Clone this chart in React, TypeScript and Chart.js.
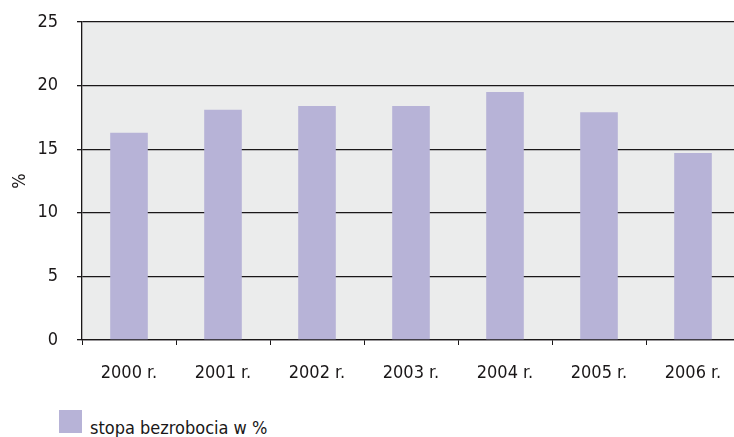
import React, { useEffect, useRef } from "react";
import { Chart, registerables } from "chart.js";

Chart.register(...registerables);

const categories = ["2000 r.", "2001 r.", "2002 r.", "2003 r.", "2004 r.", "2005 r.", "2006 r."];
const unemploymentRate = [16.3, 18.1, 18.4, 18.4, 19.5, 17.9, 14.7];
const seriesLabel = "stopa bezrobocia w %";
const yAxisTitle = "%";

const BAR_COLOR = "#b7b3d7";
const PLOT_BG = "#ebecec";
const LINE_COLOR = "#1a1718";
const FONT = "'DejaVu Sans Condensed', 'Liberation Sans Narrow', sans-serif";
const FONT_SIZE = 18;

const plotBackground = {
  id: "plotBackground",
  beforeDraw(chart: any) {
    const { ctx, chartArea } = chart;
    if (!chartArea) return;
    ctx.save();
    ctx.fillStyle = PLOT_BG;
    ctx.fillRect(chartArea.left, chartArea.top, chartArea.right - chartArea.left, chartArea.bottom - chartArea.top);
    ctx.restore();
  },
};

export default function App() {
  const canvasRef = useRef<HTMLCanvasElement | null>(null);

  useEffect(() => {
    if (!canvasRef.current) return;
    const chart = new Chart(canvasRef.current, {
      type: "bar",
      data: {
        labels: categories,
        datasets: [
          {
            label: seriesLabel,
            data: unemploymentRate,
            backgroundColor: BAR_COLOR,
            borderWidth: 0,
            barPercentage: 0.4,
            categoryPercentage: 1,
          },
        ],
      },
      options: {
        animation: false,
        responsive: false,
        maintainAspectRatio: false,
        layout: { padding: { top: 22, right: 2, left: 0, bottom: 0 } },
        plugins: {
          legend: { display: false },
          tooltip: { enabled: false },
        },
        scales: {
          x: {
            grid: {
              display: true,
              drawOnChartArea: false,
              drawTicks: true,
              tickLength: 5,
              color: LINE_COLOR,
              offset: true,
            },
            border: { display: true, color: LINE_COLOR, width: 1.3 },
            ticks: {
              color: LINE_COLOR,
              font: { family: FONT, size: FONT_SIZE },
              padding: 18,
              maxRotation: 0,
            },
            afterFit(scale: any) {
              scale.height = 60;
              scale.paddingLeft = 0;
              scale.paddingRight = 0;
            },
          },
          y: {
            min: 0,
            max: 25,
            grid: {
              color: LINE_COLOR,
              lineWidth: 1.3,
              drawTicks: true,
              tickLength: 5,
            },
            border: { display: true, color: LINE_COLOR, width: 1.3 },
            ticks: {
              stepSize: 5,
              color: LINE_COLOR,
              font: { family: FONT, size: FONT_SIZE },
              padding: 19,
            },
            title: {
              display: true,
              text: yAxisTitle,
              color: LINE_COLOR,
              font: { family: FONT, size: FONT_SIZE },
              padding: { top: 10, bottom: 0 },
            },
            afterFit(scale: any) {
              scale.width = 82;
              scale.paddingTop = 0;
              scale.paddingBottom = 0;
            },
          },
        },
      },
      plugins: [plotBackground],
    });
    return () => chart.destroy();
  }, []);

  return (
    <div
      style={{
        position: "fixed",
        left: 0,
        top: 0,
        width: 734,
        height: 437,
        overflow: "hidden",
        background: "#fff",
      }}
    >
      <canvas ref={canvasRef} width={742} height={400} style={{ position: "absolute", left: 0, top: 0 }} />
      <div
        style={{
          position: "absolute",
          left: 59,
          top: 410,
          width: 23,
          height: 23,
          background: BAR_COLOR,
        }}
      />
      <div
        style={{
          position: "absolute",
          left: 90,
          top: 418,
          fontFamily: FONT,
          fontSize: FONT_SIZE,
          lineHeight: "20px",
          color: LINE_COLOR,
          whiteSpace: "nowrap",
        }}
      >
        {seriesLabel}
      </div>
    </div>
  );
}
